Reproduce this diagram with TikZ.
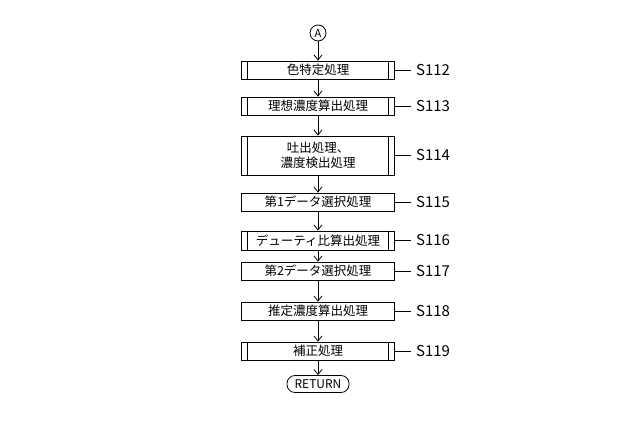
\documentclass[tikz,border=0pt]{standalone}
\usepackage{fontspec}
\setmainfont{Noto Sans CJK JP}
\usetikzlibrary{arrows.meta}
\begin{document}
\begin{tikzpicture}[x=1pt,y=-1pt,
  proc/.style={draw,line width=0.8pt,minimum width=153pt,inner sep=0pt,font=\fontsize{12.5}{15}\selectfont,align=center},
  sub/.style={proc,path picture={\draw[line width=0.8pt]([xshift=6pt]path picture bounding box.north west)--([xshift=6pt]path picture bounding box.south west);
    \draw[line width=0.8pt]([xshift=-6pt]path picture bounding box.north east)--([xshift=-6pt]path picture bounding box.south east);}},
  arr/.style={line width=0.8pt,-{Straight Barb[length=5pt,width=8pt]}},
  lbl/.style={font=\fontsize{15}{15}\selectfont,anchor=west,inner sep=1pt}]
\useasboundingbox (0,0) rectangle (640,438);
\node[draw,circle,line width=0.8pt,inner sep=0pt,minimum size=16pt,font=\fontsize{11}{11}\selectfont] (A) at (318,33) {A};
\node[sub,minimum height=18pt] (s112) at (318,70) {色特定処理};
\node[sub,minimum height=18pt] (s113) at (318,106) {理想濃度算出処理};
\node[sub,minimum height=39pt] (s114) at (318,155.5) {吐出処理、\\濃度検出処理};
\node[proc,minimum height=18pt] (s115) at (318,202) {第1データ選択処理};
\node[sub,minimum height=19pt] (s116) at (318,240.5) {デューティ比算出処理};
\node[proc,minimum height=18pt] (s117) at (318,271) {第2データ選択処理};
\node[proc,minimum height=18pt] (s118) at (318,311) {推定濃度算出処理};
\node[sub,minimum height=18pt] (s119) at (318,351) {補正処理};
\node[draw,rounded corners=8pt,line width=0.8pt,minimum width=62pt,minimum height=17pt,inner sep=0pt,font=\fontsize{12}{12}\selectfont] (ret) at (318,384) {RETURN};
\foreach \a/\b in {A/s112,s112/s113,s113/s114,s114/s115,s115/s116,s116/s117,s117/s118,s118/s119,s119/ret}
  \draw[arr] (\a) -- (\b);
\foreach \n/\t in {s112/S112,s113/S113,s114/S114,s115/S115,s116/S116,s117/S117,s118/S118,s119/S119}{
  \node[lbl] (l\n) at ([xshift=20pt]\n.east) {\t};
  \draw[line width=0.6pt] (\n.east) -- ([xshift=-4pt]l\n.west);}
\end{tikzpicture}
\end{document}
